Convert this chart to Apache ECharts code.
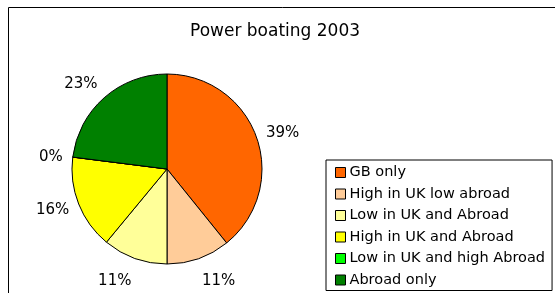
<!DOCTYPE html>
<html style="height: 100%">
<head>
    <meta charset="utf-8">
</head>
<body style="height: 100%; margin: 0; background: #fff">
<div id="container" style="width: 555px; height: 293px"></div>
<script type="text/javascript" src="https://cdn.jsdelivr.net/npm/echarts@6/dist/echarts.min.js"></script>
<script type="text/javascript">
    // data (slice sizes in %)
    var categories = ['GB only', 'High in UK low abroad', 'Low in UK and Abroad',
        'High in UK and Abroad', 'Low in UK and high Abroad', 'Abroad only'];
    var shares = [39.2, 10.8, 11.0, 16.0, 0, 23.0];
    var colours = ['#FF6600', '#FFCC99', '#FFFF99', '#FFFF00', '#00FF00', '#008000'];

    var dom = document.getElementById("container");
    var myChart = echarts.init(dom);
    var font = 'DejaVu Sans';
    var cx = 167, cy = 169, R = 95;

    var total = 0;
    for (var k = 0; k < shares.length; k++) total += shares[k];

    var pieData = [];
    for (var i = 0; i < categories.length; i++) {
        pieData.push({value: shares[i], name: categories[i], itemStyle: {color: colours[i]}});
    }

    // excel-like label placement: the label box sits just outside the rim at the slice's mid angle
    function placeLabel(params) {
        var idx = params.dataIndex;
        var before = 0;
        for (var j = 0; j < idx; j++) before += shares[j];
        var a = (before + shares[idx] / 2) / total * Math.PI * 2;
        var s = Math.sin(a), c = -Math.cos(a);
        var w = params.labelRect.width, h = params.labelRect.height;
        var d = R + 10;
        return {
            x: cx + d * s + (s >= 0 ? 1 : -1) * w / 2,
            y: cy + 1 + d * c + c * Math.abs(c) * h * 0.9,
            align: 'center',
            verticalAlign: 'middle'
        };
    }

    var option = {
        animation: false,
        title: {
            text: 'Power boating 2003',
            left: 185,
            top: 18,
            textStyle: {fontFamily: font, fontSize: 17, fontWeight: 'normal', color: '#000'}
        },
        graphic: [{
            type: 'rect',
            shape: {x: 8.5, y: 7.5, width: 700, height: 400},
            style: {fill: 'none', stroke: '#000', lineWidth: 1},
            silent: true
        }],
        legend: {
            orient: 'vertical',
            left: 326,
            top: 160,
            height: 200,
            itemWidth: 10,
            itemHeight: 10,
            itemGap: 6.5,
            padding: [5, 7, 3, 9],
            borderColor: '#000',
            borderWidth: 1,
            icon: 'rect',
            itemStyle: {borderColor: '#000', borderWidth: 1},
            textStyle: {fontFamily: font, fontSize: 14.5, color: '#000', padding: [0, 0, 0, -1]},
            data: categories
        },
        series: [{
            name: 'Power boating 2003',
            type: 'pie',
            center: [cx, cy],
            radius: R,
            startAngle: 90,
            clockwise: true,
            avoidLabelOverlap: false,
            emphasis: {disabled: true},
            itemStyle: {borderColor: '#000', borderWidth: 1},
            label: {
                show: true,
                position: 'outside',
                fontFamily: font,
                fontSize: 15,
                color: '#000',
                formatter: function (p) { return Math.round(p.percent) + '%'; }
            },
            labelLine: {show: false},
            labelLayout: placeLabel,
            data: pieData
        }]
    };
    myChart.setOption(option, true);
</script>
</body>
</html>
